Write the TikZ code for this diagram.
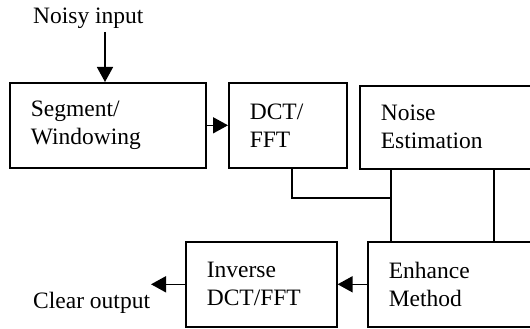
\documentclass[tikz,border=0pt]{standalone}
\usepackage{fontspec}
\setmainfont{Liberation Serif}
\usetikzlibrary{arrows.meta}
\tikzset{
	blok/.style = {draw, line width = 1.6pt, anchor = north west, minimum height = 85pt, text width = #1, inner xsep = 21pt, inner ysep = 0pt, align = left},
	tekst/.style = {anchor = base west, inner sep = 0pt},
	pijl/.style = {-{Triangle[length = 15pt, width = 16pt]}, line width = 1.6pt},
	lijn/.style = {line width = 1.6pt}
}
\begin{document}
\begin{tikzpicture}[x = 1pt, y = -1pt, font = \fontsize{23.5}{28}\selectfont]
				%	frame
				\useasboundingbox (0, 0) rectangle (530, 329);
				\clip (0, 0) rectangle (530, 329);
				
				%	blocks
				\node[blok = 154pt] (seg) at (9, 82) {Segment/\\Windowing};
				\node[blok = 76pt] (dct) at (228, 82) {DCT/\\FFT};
				\node[blok = 160pt, minimum height = 83pt] (noise) at (359, 85) {Noise\\Estimation};
				\node[blok = 109pt] (inv) at (185, 241) {Inverse\\DCT/FFT};
				\node[blok = 160pt] (enh) at (367, 241) {Enhance\\Method};
				
				%	in- and output
				\node[tekst] (noisy) at (33, 24) {Noisy input};
				\node[tekst] (clear) at (33, 308) {Clear output};
				\coordinate (inpijl) at (105, 32);
				\coordinate (uitpijl) at (151, 283);
				
				%	arrows
				\draw[pijl] (inpijl) -- (inpijl |- seg.north);
				\draw[pijl] (seg.east) -- (seg.east -| dct.west);
				\draw[pijl] (enh.west) -- (enh.west -| inv.east);
				\draw[pijl] (inv.west) -- (inv.west -| uitpijl);
				
				%	lines
				\coordinate (knik) at (391, 198);
				\coordinate (rechts) at (494, 198);
				\draw[lijn] ([xshift = 4pt]dct.south) |- (knik);
				\draw[lijn] (noise.south -| knik) -- (enh.north -| knik);
				\draw[lijn] (noise.south -| rechts) -- (enh.north -| rechts);
\end{tikzpicture}
\end{document}
